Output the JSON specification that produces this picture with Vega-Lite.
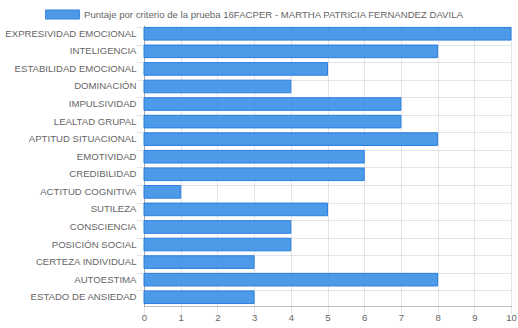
{
  "$schema": "https://vega.github.io/schema/vega-lite/v6.json",
  "width": 367,
  "height": 281,
  "autosize": {"type": "none"},
  "padding": {"left": 144, "top": 25, "right": 7, "bottom": 22},
  "background": "white",
  "config": {
    "view": {"stroke": null},
    "font": "Arial",
    "axis": {"labelFont": "Arial", "labelFontSize": 9.6, "labelColor": "#666666", "gridColor": "#000000", "gridOpacity": 0.1, "tickColor": "#000000", "tickOpacity": 0.1, "domainColor": "#000000", "domainOpacity": 0.25, "title": null}
  },
  "data": {"values": [
    {"criterio": "EXPRESIVIDAD EMOCIONAL", "puntaje": 10, "serie": "Puntaje por criterio de la prueba 16FACPER - MARTHA PATRICIA FERNANDEZ DAVILA"},
    {"criterio": "INTELIGENCIA", "puntaje": 8, "serie": "Puntaje por criterio de la prueba 16FACPER - MARTHA PATRICIA FERNANDEZ DAVILA"},
    {"criterio": "ESTABILIDAD EMOCIONAL", "puntaje": 5, "serie": "Puntaje por criterio de la prueba 16FACPER - MARTHA PATRICIA FERNANDEZ DAVILA"},
    {"criterio": "DOMINACIÓN", "puntaje": 4, "serie": "Puntaje por criterio de la prueba 16FACPER - MARTHA PATRICIA FERNANDEZ DAVILA"},
    {"criterio": "IMPULSIVIDAD", "puntaje": 7, "serie": "Puntaje por criterio de la prueba 16FACPER - MARTHA PATRICIA FERNANDEZ DAVILA"},
    {"criterio": "LEALTAD GRUPAL", "puntaje": 7, "serie": "Puntaje por criterio de la prueba 16FACPER - MARTHA PATRICIA FERNANDEZ DAVILA"},
    {"criterio": "APTITUD SITUACIONAL", "puntaje": 8, "serie": "Puntaje por criterio de la prueba 16FACPER - MARTHA PATRICIA FERNANDEZ DAVILA"},
    {"criterio": "EMOTIVIDAD", "puntaje": 6, "serie": "Puntaje por criterio de la prueba 16FACPER - MARTHA PATRICIA FERNANDEZ DAVILA"},
    {"criterio": "CREDIBILIDAD", "puntaje": 6, "serie": "Puntaje por criterio de la prueba 16FACPER - MARTHA PATRICIA FERNANDEZ DAVILA"},
    {"criterio": "ACTITUD COGNITIVA", "puntaje": 1, "serie": "Puntaje por criterio de la prueba 16FACPER - MARTHA PATRICIA FERNANDEZ DAVILA"},
    {"criterio": "SUTILEZA", "puntaje": 5, "serie": "Puntaje por criterio de la prueba 16FACPER - MARTHA PATRICIA FERNANDEZ DAVILA"},
    {"criterio": "CONSCIENCIA", "puntaje": 4, "serie": "Puntaje por criterio de la prueba 16FACPER - MARTHA PATRICIA FERNANDEZ DAVILA"},
    {"criterio": "POSICIÓN SOCIAL", "puntaje": 4, "serie": "Puntaje por criterio de la prueba 16FACPER - MARTHA PATRICIA FERNANDEZ DAVILA"},
    {"criterio": "CERTEZA INDIVIDUAL", "puntaje": 3, "serie": "Puntaje por criterio de la prueba 16FACPER - MARTHA PATRICIA FERNANDEZ DAVILA"},
    {"criterio": "AUTOESTIMA", "puntaje": 8, "serie": "Puntaje por criterio de la prueba 16FACPER - MARTHA PATRICIA FERNANDEZ DAVILA"},
    {"criterio": "ESTADO DE ANSIEDAD", "puntaje": 3, "serie": "Puntaje por criterio de la prueba 16FACPER - MARTHA PATRICIA FERNANDEZ DAVILA"}
  ]},
  "mark": {"type": "bar", "fillOpacity": 0.9, "strokeWidth": 1, "stroke": "#2a7fe0"},
  "encoding": {
    "y": {
      "field": "criterio", "type": "nominal", "sort": null,
      "scale": {"paddingInner": 0.28, "paddingOuter": 0.14},
      "axis": {"bandPosition": 0, "grid": true, "ticks": true, "tickSize": 8, "labelPadding": 0, "domain": true, "labelLimit": 200}
    },
    "x": {
      "field": "puntaje", "type": "quantitative",
      "scale": {"domain": [0, 10], "nice": false},
      "axis": {"values": [0,1,2,3,4,5,6,7,8,9,10], "grid": true, "tickSize": 8, "labelPadding": -2, "labelFlush": false, "domain": true}
    },
    "color": {
      "field": "serie", "type": "nominal",
      "scale": {"range": ["#3a8fe6"]},
      "legend": {
        "title": null, "orient": "none", "legendX": -99, "legendY": -28,
        "symbolType": "M-1,-0.27H1V0.27H-1Z", "symbolSize": 1156, "symbolStrokeColor": "#2a7fe0", "symbolStrokeWidth": 1,
        "symbolFillColor": "#3a8fe6", "symbolOpacity": 0.9, "symbolOffset": 0,
        "labelFontSize": 9.6, "labelColor": "#666666", "labelFont": "Arial", "labelLimit": 500, "labelOffset": 4
      }
    }
  }
}
